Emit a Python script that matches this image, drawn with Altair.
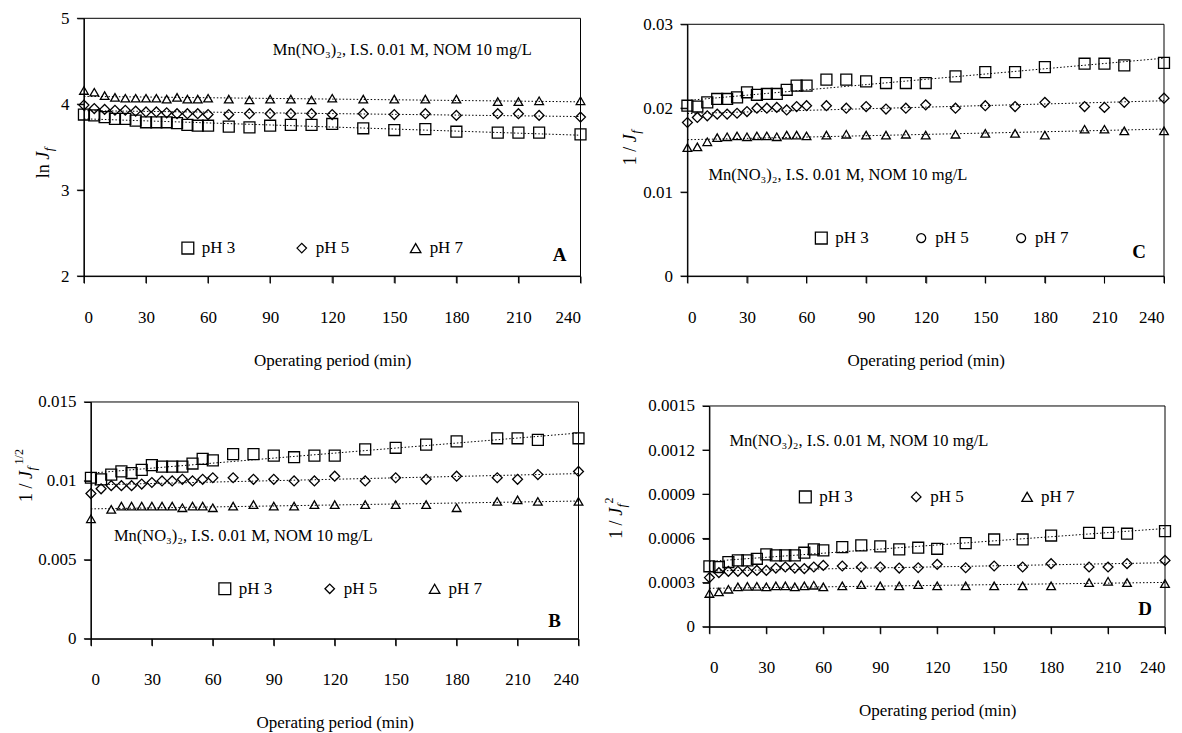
import altair as alt
import pandas as pd

SERIF = "Liberation Serif"

TIME = [0, 5, 10, 15, 20, 25, 30, 35, 40, 45, 50, 55, 60, 70, 80, 90, 100, 110,
        120, 135, 150, 165, 180, 200, 210, 220, 240]
SERIES = ["pH 3", "pH 5", "pH 7"]
X_TICKS = [0, 30, 60, 90, 120, 150, 180, 210, 240]
X_TITLE = "Operating period (min)"
NOTE = "Mn(NO\u2083)\u2082, I.S. 0.01 M, NOM 10 mg/L"

# Panel A : ln Jf
A_PH3 = [3.88, 3.87, 3.85, 3.83, 3.83, 3.81, 3.79, 3.79, 3.79, 3.78, 3.76, 3.75, 3.75,
         3.74, 3.73, 3.75, 3.76, 3.76, 3.77, 3.72, 3.70, 3.71, 3.68, 3.67, 3.67, 3.67, 3.65]
A_PH5 = [3.99, 3.95, 3.94, 3.93, 3.93, 3.92, 3.91, 3.91, 3.90, 3.89, 3.89, 3.89, 3.88,
         3.88, 3.89, 3.89, 3.89, 3.89, 3.88, 3.89, 3.88, 3.89, 3.87, 3.89, 3.89, 3.87, 3.85]
A_PH7 = [4.16, 4.14, 4.10, 4.08, 4.07, 4.07, 4.07, 4.07, 4.06, 4.08, 4.06, 4.06, 4.07,
         4.06, 4.05, 4.06, 4.06, 4.05, 4.07, 4.06, 4.06, 4.06, 4.06, 4.03, 4.03, 4.04, 4.04]
A_TICKS = [2, 3, 4, 5]

# Panel C : 1/Jf
C_PH3 = [0.0203, 0.0202, 0.0207, 0.0211, 0.0211, 0.0213, 0.0219, 0.0216, 0.0217, 0.0217,
         0.0222, 0.0227, 0.0227, 0.0234, 0.0234, 0.0232, 0.0230, 0.0230, 0.0230, 0.0238,
         0.0243, 0.0243, 0.0249, 0.0253, 0.0253, 0.0251, 0.0254]
C_PH5 = [0.0183, 0.0189, 0.0191, 0.0193, 0.0193, 0.0194, 0.0196, 0.0200, 0.0200, 0.0201,
         0.0198, 0.0202, 0.0203, 0.0203, 0.0200, 0.0202, 0.0199, 0.0200, 0.0204, 0.0200,
         0.0203, 0.0202, 0.0207, 0.0202, 0.0201, 0.0207, 0.0212]
C_PH7 = [0.0153, 0.0154, 0.0160, 0.0165, 0.0166, 0.0167, 0.0166, 0.0167, 0.0167, 0.0166,
         0.0168, 0.0168, 0.0167, 0.0168, 0.0169, 0.0168, 0.0168, 0.0169, 0.0168, 0.0169,
         0.0170, 0.0170, 0.0168, 0.0175, 0.0175, 0.0173, 0.0173]
C_TICKS = [0, 0.01, 0.02, 0.03]

# Panel B : 1/Jf^(1/2)
B_PH3 = [0.0102, 0.0101, 0.0104, 0.0106, 0.0105, 0.0107, 0.0110, 0.0109, 0.0109, 0.0109,
         0.0111, 0.0114, 0.0113, 0.0117, 0.0117, 0.0116, 0.0115, 0.0116, 0.0116, 0.0120,
         0.0121, 0.0123, 0.0125, 0.0127, 0.0127, 0.0126, 0.0127]
B_PH5 = [0.0092, 0.0095, 0.0097, 0.0097, 0.0097, 0.0098, 0.0099, 0.0100, 0.0100, 0.0101,
         0.0100, 0.0101, 0.0102, 0.0102, 0.0101, 0.0101, 0.0100, 0.0100, 0.0103, 0.0100,
         0.0102, 0.0101, 0.0103, 0.0102, 0.0101, 0.0104, 0.0106]
B_PH7 = [0.0076, None, 0.0082, 0.0084, 0.0084, 0.0084, 0.0084, 0.0084, 0.0084, 0.0083,
         0.0084, 0.0084, 0.0083, 0.0084, 0.0085, 0.0084, 0.0084, 0.0085, 0.0085, 0.0085,
         0.0085, 0.0085, 0.0083, 0.0087, 0.0088, 0.0087, 0.0087]
B_TICKS = [0, 0.005, 0.01, 0.015]

# Panel D : 1/Jf^2
D_PH3 = [0.000411, 0.000406, 0.000440, 0.000451, 0.000451, 0.000462, 0.000492, 0.000485,
         0.000485, 0.000485, 0.000503, 0.000526, 0.000519, 0.000541, 0.000553, 0.000546,
         0.000526, 0.000537, 0.000530, 0.000568, 0.000593, 0.000593, 0.000620, 0.000638,
         0.000638, 0.000632, 0.000650]
D_PH5 = [0.000334, 0.000368, 0.000377, 0.000377, 0.000377, 0.000383, 0.000383, 0.000399,
         0.000406, 0.000399, 0.000395, 0.000406, 0.000417, 0.000413, 0.000406, 0.000406,
         0.000399, 0.000401, 0.000424, 0.000401, 0.000413, 0.000406, 0.000429, 0.000406,
         0.000406, 0.000429, 0.000451]
D_PH7 = [0.000226, 0.000237, 0.000255, 0.000271, 0.000275, 0.000275, 0.000271, 0.000278,
         0.000278, 0.000271, 0.000278, 0.000282, 0.000271, 0.000278, 0.000286, 0.000278,
         0.000278, 0.000286, 0.000278, 0.000278, 0.000278, 0.000278, 0.000278, 0.000300,
         0.000309, 0.000300, 0.000293]
D_TICKS = [0, 0.0003, 0.0006, 0.0009, 0.0012, 0.0015]

CELL_W, CELL_H = 588, 380
COL_L = [75, 89]   # plot origin inside each grid column
ROW_T = [9, 11]    # plot origin inside each grid row


def long_df(series_vals):
    rows = []
    for name, vals in zip(SERIES, series_vals):
        for t, v in zip(TIME, vals):
            if v is not None:
                rows.append({"t": t, "val": v, "series": name, "grp": name})
    return pd.DataFrame(rows)


def one_row():
    return pd.DataFrame({"v": [0]})


def text_layer(txt, x, y, size, **kw):
    return alt.Chart(pd.DataFrame({"s": [txt]})).mark_text(
        font=SERIF, fontSize=size, color="black", **kw
    ).encode(text="s:N", x=alt.value(x), y=alt.value(y))


def anchor(x, y):
    return alt.Chart(one_row()).mark_point(filled=True, color="white", size=1, opacity=1,
                                           strokeWidth=0).encode(
        x=alt.value(x), y=alt.value(y))


def ytitle(parts, xb, y0):
    layers = []
    pos = y0
    for txt, size, italic, dx, adv in parts:
        layers.append(text_layer(txt, xb + dx, pos, size, angle=270, align="left",
                                 baseline="alphabetic",
                                 fontStyle="italic" if italic else "normal"))
        pos -= adv
    return layers


def legend_layers(shapes, lsizes, lx, ly, step):
    layers = []
    for i, (name, shp, sz) in enumerate(zip(SERIES, shapes, lsizes)):
        cx = lx + i * step
        layers.append(alt.Chart(pd.DataFrame({"s": [name]})).mark_point(
            shape=shp, size=sz, filled=False, color="black", strokeWidth=1.3, opacity=1
        ).encode(x=alt.value(cx), y=alt.value(ly)))
        layers.append(text_layer(name, cx + 14, ly, 17, align="left", baseline="middle"))
    return layers


def panel(series_vals, shapes, sizes, lsizes, ydomain, yticks, yfmt, W, H, col, row, dl, dt,
          leg, note_xy, letter, letter_xy, title_parts, title_xy):
    L, T = COL_L[col], ROW_T[row]
    PW, PH = W + dl, H + dt
    ymin, ymax = ydomain
    df = long_df(series_vals)
    xs = alt.Scale(domain=[0, 240], range=[dl, PW], nice=False, zero=False)
    ys = alt.Scale(domain=ydomain, range=[PH, dt], nice=False, zero=False)
    x_axis = alt.Axis(values=X_TICKS, title=X_TITLE, format="d",
                      labelPadding=26, titlePadding=27)
    y_axis = alt.Axis(values=yticks, format=yfmt, title=None, labelPadding=8, offset=-dl)

    def X(**kw):
        return alt.X(scale=xs, axis=x_axis, **kw)

    def Y(**kw):
        return alt.Y(scale=ys, axis=y_axis, **kw)

    # frame of the plot, drawn through the scales
    def edge(x0, x1, y0, y1):
        enc = dict(x=X(datum=x0, type="quantitative"), y=Y(datum=y0, type="quantitative"))
        if x1 != x0:
            enc["x2"] = alt.X2(datum=x1)
        if y1 != y0:
            enc["y2"] = alt.Y2(datum=y1)
        return alt.Chart(one_row()).mark_rule(color="black", strokeWidth=1).encode(**enc)

    frame = [edge(0, 240, ymax, ymax), edge(240, 240, ymin, ymax),
             edge(0, 240, ymin, ymin), edge(0, 0, ymin, ymax)]
    xtick = alt.Chart(pd.DataFrame({"tv": X_TICKS})).mark_rule(
        color="black", strokeWidth=1, y2Offset=7).encode(
        x=X(field="tv", type="quantitative"),
        y=Y(datum=ymin, type="quantitative"), y2=alt.Y2(datum=ymin))
    ytick = alt.Chart(pd.DataFrame({"tv": yticks})).mark_rule(
        color="black", strokeWidth=1, x2Offset=-7).encode(
        y=Y(field="tv", type="quantitative"),
        x=X(datum=0, type="quantitative"), x2=alt.X2(datum=0))

    trend = alt.Chart(df).transform_regression(
        "t", "val", groupby=["series"], extent=[0, 240]
    ).mark_line(color="black", strokeWidth=1, strokeDash=[1.5, 2]).encode(
        x=X(field="t", type="quantitative"), y=Y(field="val", type="quantitative"),
        detail="series:N")
    pts = alt.Chart(df).mark_point(filled=False, color="black", strokeWidth=1.3,
                                   opacity=1).encode(
        x=X(field="t", type="quantitative"), y=Y(field="val", type="quantitative"),
        shape=alt.Shape("series:N", scale=alt.Scale(domain=SERIES, range=shapes), legend=None),
        size=alt.Size("grp:N", scale=alt.Scale(domain=SERIES, range=sizes), legend=None),
    )
    note = text_layer(NOTE, dl + note_xy[0], dt + note_xy[1], 16.5, align="left",
                      baseline="middle")
    let = text_layer(letter, dl + letter_xy[0], dt + letter_xy[1], 19, align="center",
                     baseline="middle", fontWeight="bold")
    legs = legend_layers(shapes, lsizes, dl + leg[0], dt + leg[1], leg[2])
    titles = ytitle(title_parts, dl + title_xy[0], dt + title_xy[1])
    ax = CELL_W - L if col == 0 else PW
    ay = CELL_H - T if row == 0 else PH
    anchors = [anchor(-L, -T), anchor(ax, ay)]
    return alt.layer(pts, *anchors, trend, *frame, xtick, ytick, note, let, *legs,
                     *titles).properties(width=PW, height=PH)


TRI = ["square", "diamond", "triangle-up"]
CIR = ["square", "circle", "circle"]

A = panel([A_PH3, A_PH5, A_PH7], TRI, [120, 75, 90], [140, 90, 110], [2, 5], A_TICKS, "d",
          497, 258, 0, 0, 0, 0,
          (104, 230, 114), (189, 32), "A", (476, 237),
          [("ln ", 18, False, 0, 18.5), ("J", 18, True, 0, 8.5), ("f", 13, True, 4, 0)],
          (-35, 160))
C = panel([C_PH3, C_PH5, C_PH7], CIR, [120, 70, 70], [140, 80, 80], [0, 0.03], C_TICKS,
          ".2~f", 477, 252, 1, 0, 0, 6,
          (134, 214, 100), (21, 151), "C", (452, 228),
          [("1 / ", 18, False, 0, 23), ("J", 18, True, 0, 8.5), ("f", 13, True, 4, 0)],
          (-51, 141))
B = panel([B_PH3, B_PH5, B_PH7], TRI, [120, 75, 90], [140, 90, 110], [0, 0.015], B_TICKS,
          ".3~f", 488, 237, 0, 1, 7, 0,
          (134, 187, 105), (23, 134), "B", (464, 219),
          [("1 / ", 18, False, 0, 23), ("J", 18, True, 0, 8.5), ("f", 13, True, 4, 6),
           ("1/2", 12, False, -9, 0)],
          (-59, 100))
D = panel([D_PH3, D_PH5, D_PH7], TRI, [120, 75, 90], [140, 90, 110], [0, 0.0015], D_TICKS,
          ".4~f", 456, 221, 1, 1, 22, 4,
          (96, 91, 111), (20, 35), "D", (436, 203),
          [("1 / ", 18, False, 0, 23), ("J", 18, True, 0, 8.5), ("f", 13, True, 4, 4),
           ("2", 12, False, -9, 0)],
          (-87, 133))

chart = alt.concat(A, C, B, D, columns=2, spacing=0, align="none", bounds="full").properties(
    padding={"left": 0, "top": 0, "right": 0, "bottom": 0}
).configure_view(stroke="transparent").configure_axis(
    domainColor="black", tickColor="black", labelColor="black", titleColor="black",
    labelFont=SERIF, titleFont=SERIF, labelFontSize=17, titleFontSize=17,
    titleFontWeight="normal", grid=False, tickSize=7, domainWidth=1, tickWidth=1
)

chart.save("out.html", embed_options={"renderer": "svg", "actions": False})
